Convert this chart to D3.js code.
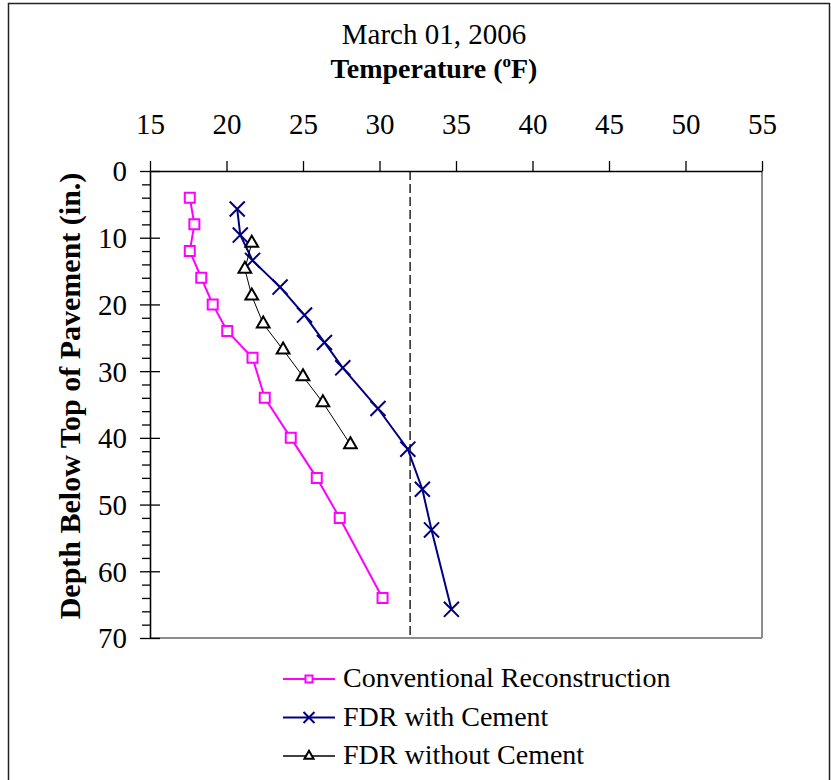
<!DOCTYPE html>
<html>
<head>
<meta charset="utf-8">
<script src="https://cdn.jsdelivr.net/npm/d3@7"></script>
<style>
  html, body { margin: 0; padding: 0; background: #fff; }
  svg { display: block; }
  text { font-family: "Liberation Serif", "Times New Roman", serif; fill: #000; }
</style>
</head>
<body>
<svg id="chart" width="831" height="780"></svg>
<script>
// Temperature profiles through the pavement, March 01, 2006
const xTicks = [15, 20, 25, 30, 35, 40, 45, 50, 55];
const yTicks = [0, 10, 20, 30, 40, 50, 60, 70];
const freezingPoint = 32;

const seriesNames = ["Conventional Reconstruction", "FDR with Cement", "FDR without Cement"];

const convDepth = [4, 8, 12, 16, 20, 24, 28, 34, 40, 46, 52, 64];
const convTemp  = [17.6, 17.9, 17.6, 18.35, 19.1, 20.05, 21.7, 22.5, 24.2, 25.9, 27.4, 30.2];

const cemDepth = [5.7, 9.6, 13.4, 17.4, 21.6, 25.7, 29.5, 35.6, 41.7, 47.7, 53.8, 65.7];
const cemTemp  = [20.7, 20.9, 21.7, 23.5, 25.1, 26.4, 27.6, 29.9, 31.85, 32.8, 33.4, 34.7];

const noCemDepth = [10.8, 14.7, 18.7, 22.9, 26.8, 30.8, 34.7, 41];
const noCemTemp  = [21.65, 21.2, 21.65, 22.4, 23.7, 25.0, 26.3, 28.1];

const serif = '"Liberation Serif", "Times New Roman", serif';
const svg = d3.select("#chart");

// outer frame
svg.append("rect")
  .attr("x", 8.5).attr("y", 3.5)
  .attr("width", 821).attr("height", 800)
  .attr("fill", "none").attr("stroke", "#222").attr("stroke-width", 1.5);

const x = d3.scaleLinear().domain([15, 55]).range([150, 762]);
const y = d3.scaleLinear().domain([0, 70]).range([171, 638]);

// plot area right and bottom edges
svg.append("line").attr("x1", x(55)).attr("x2", x(55)).attr("y1", y(0)).attr("y2", y(70))
  .attr("stroke", "#8c8c8c").attr("stroke-width", 2);
svg.append("line").attr("x1", x(15)).attr("x2", x(55)).attr("y1", y(70)).attr("y2", y(70))
  .attr("stroke", "#8c8c8c").attr("stroke-width", 2);

// freezing line
svg.append("line")
  .attr("x1", x(freezingPoint)).attr("x2", x(freezingPoint))
  .attr("y1", y(0)).attr("y2", y(70))
  .attr("stroke", "#000").attr("stroke-width", 1.3)
  .attr("stroke-dasharray", "9,4");

// top temperature axis
const xAxis = svg.append("g")
  .attr("transform", `translate(0,${y(0)})`)
  .call(d3.axisTop(x).tickValues(xTicks).tickSize(10).tickSizeOuter(0).tickPadding(27)
        .tickFormat(d3.format("d")));
xAxis.attr("font-family", serif);
xAxis.selectAll("text").attr("font-size", 29).attr("dy", 0);
xAxis.selectAll("line, path").attr("stroke", "#000").attr("stroke-width", 1.3);

// left depth axis: minor ticks every 2 in.
const minor = d3.range(0, 71, 2).filter(d => d % 10 !== 0);
const yMinor = svg.append("g")
  .attr("transform", `translate(${x(15)},0)`)
  .call(d3.axisLeft(y).tickValues(minor).tickSize(8).tickSizeOuter(0).tickFormat(""));
yMinor.selectAll("line, path").attr("stroke", "#000").attr("stroke-width", 1.3);

const yAxis = svg.append("g")
  .attr("transform", `translate(${x(15)},0)`)
  .call(d3.axisLeft(y).tickValues(yTicks).tickSize(10).tickSizeOuter(0).tickPadding(13)
        .tickFormat(d3.format("d")));
yAxis.attr("font-family", serif);
yAxis.selectAll(".tick line").attr("x1", 10);
yAxis.selectAll("text").attr("font-size", 29).attr("dy", "0.34em");
yAxis.selectAll("line, path").attr("stroke", "#000").attr("stroke-width", 1.3);

// titles
svg.append("text").attr("x", 434).attr("y", 44).attr("text-anchor", "middle")
  .attr("font-size", 29).text("March 01, 2006");

const xt = svg.append("text").attr("x", 434).attr("y", 78).attr("text-anchor", "middle")
  .attr("font-size", 28).attr("font-weight", "bold");
xt.append("tspan").text("Temperature (");
xt.append("tspan").attr("font-size", 17).attr("dy", -11).text("o");
xt.append("tspan").attr("dy", 11).text("F)");

svg.append("text")
  .attr("transform", `translate(80,${(170 + 622) / 2}) rotate(-90)`)
  .attr("text-anchor", "middle").attr("font-size", 30).attr("font-weight", "bold")
  .text("Depth Below Top of Pavement (in.)");

// series
const series = [
  { name: seriesNames[0], depth: convDepth, temp: convTemp, color: "#ff00ff", width: 2,
    symbol: d3.symbolSquare, size: 100, legendSize: 50 },
  { name: seriesNames[1], depth: cemDepth, temp: cemTemp, color: "#000080", width: 2,
    symbol: d3.symbolTimes, size: 150, legendSize: 80 },
  { name: seriesNames[2], depth: noCemDepth, temp: noCemTemp, color: "#000", width: 1,
    symbol: d3.symbolTriangle, size: 70, legendSize: 36 }
];

const line = d3.line().x(d => x(d[0])).y(d => y(d[1]));

series.forEach(s => {
  const pts = s.temp.map((t, i) => [t, s.depth[i]]);
  svg.append("path").datum(pts).attr("d", line)
    .attr("fill", "none").attr("stroke", s.color).attr("stroke-width", s.width);
  svg.append("g").selectAll("path").data(pts).join("path")
    .attr("transform", d => `translate(${x(d[0])},${y(d[1])})`)
    .attr("d", d3.symbol().type(s.symbol).size(s.size))
    .attr("fill", s.symbol === d3.symbolTimes ? "none" : "#fff")
    .attr("stroke", s.color).attr("stroke-width", 2);
});

// legend
const legend = svg.append("g");
series.forEach((s, i) => {
  const ly = 679 + i * 38.5;
  legend.append("line").attr("x1", 283).attr("x2", 335).attr("y1", ly).attr("y2", ly)
    .attr("stroke", s.color).attr("stroke-width", s.width === 1 ? 1.3 : 2);
  legend.append("path").attr("transform", `translate(309,${ly})`)
    .attr("d", d3.symbol().type(s.symbol).size(s.legendSize))
    .attr("fill", s.symbol === d3.symbolTimes ? "none" : "#fff")
    .attr("stroke", s.color).attr("stroke-width", 2);
  legend.append("text").attr("x", 343).attr("y", ly + 8).attr("font-size", 28).text(s.name);
});
</script>
</body>
</html>
